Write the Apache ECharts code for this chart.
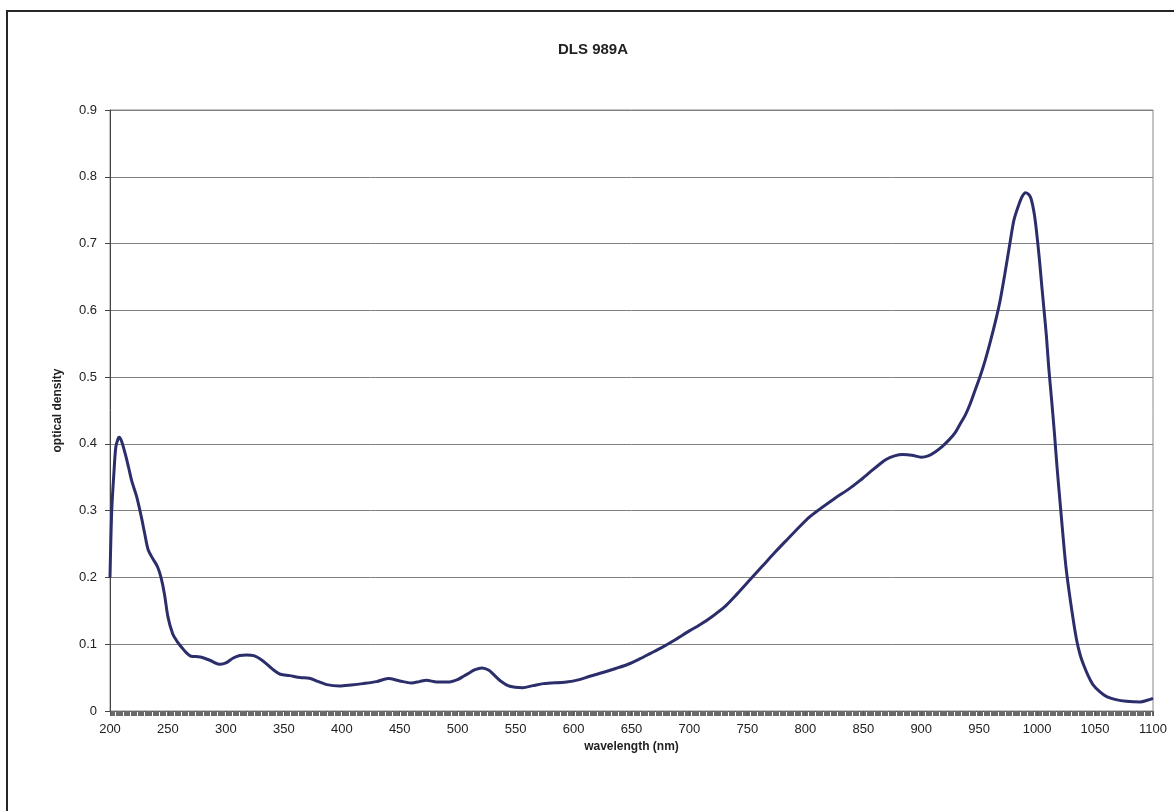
<!DOCTYPE html>
<html>
<head>
<meta charset="utf-8">
<script src="https://cdn.jsdelivr.net/npm/echarts@6/dist/echarts.min.js"></script>
<style>
html,body{margin:0;padding:0;background:#fff;overflow:hidden;}
#frame{position:absolute;left:6px;top:10px;width:1300px;height:900px;border:2px solid #262626;box-sizing:border-box;}
#chart{position:absolute;left:0;top:0;width:1174px;height:811px;}
</style>
</head>
<body>
<div id="frame"></div>
<div id="chart"></div>
<script>
const title = 'DLS 989A';
const xAxisName = 'wavelength (nm)';
const yAxisName = 'optical density';

const wavelength = [200,201.5,203.5,205,207,208,210,213,216,219,223,227,230,233,237,241,244,247,250,254,258,262,266,270,278,286,295,300,306,312,318,324,332,340,347,355,364,372,380,387,398,408,418,430,440,450,460,467,473,482,493,500,505,510,515,521,527,532,537,545,556,565,574,594,605,614,626,637,647,657,666,676,687,700,709,720,731,741,752,763,774,785,795,804,813,825,838,847,856,863,870,877,884,892,900,906,912,918,924,929,933,938,942,946,951,955,959,964,968,972,976.5,980,984,987,990,993,995,997.5,999.5,1002,1004,1006,1008,1010,1012.5,1015,1017,1021,1025,1030,1034,1037,1040,1044,1048,1054,1060,1068,1077,1089,1095,1100];
const density = [0.20,0.30,0.36,0.395,0.408,0.41,0.404,0.386,0.365,0.343,0.321,0.291,0.265,0.241,0.228,0.216,0.200,0.175,0.141,0.116,0.104,0.095,0.087,0.082,0.081,0.076,0.070,0.072,0.079,0.083,0.084,0.083,0.075,0.063,0.055,0.053,0.050,0.049,0.044,0.0395,0.0375,0.039,0.041,0.044,0.0485,0.045,0.042,0.044,0.046,0.0435,0.0435,0.047,0.052,0.057,0.062,0.0645,0.061,0.053,0.045,0.037,0.035,0.038,0.041,0.0435,0.047,0.052,0.058,0.064,0.070,0.078,0.086,0.095,0.106,0.12,0.129,0.142,0.157,0.175,0.196,0.217,0.238,0.258,0.276,0.291,0.303,0.318,0.333,0.345,0.358,0.368,0.377,0.382,0.384,0.383,0.380,0.382,0.388,0.396,0.406,0.416,0.428,0.443,0.459,0.478,0.502,0.524,0.549,0.583,0.614,0.653,0.700,0.735,0.757,0.770,0.776,0.773,0.766,0.745,0.718,0.676,0.637,0.600,0.562,0.515,0.466,0.415,0.3695,0.289,0.214,0.150,0.107,0.085,0.0695,0.053,0.040,0.029,0.0215,0.017,0.0145,0.0135,0.016,0.019];

const chart = echarts.init(document.getElementById('chart'));
const font = 'Liberation Sans, Arial, sans-serif';
chart.setOption({
  animation: false,
  backgroundColor: 'transparent',
  title: {
    text: title, left: 588, top: 37, textAlign: 'center',
    textStyle: {fontFamily: font, fontSize: 15, fontWeight: 'bold', color: '#222'}
  },
  grid: {left: 110, right: 21, top: 110, bottom: 100, show: true, borderColor: '#8a8a8a', borderWidth: 1},
  xAxis: {
    type: 'value', min: 200, max: 1100, interval: 50,
    name: xAxisName, nameLocation: 'middle', nameGap: 23,
    nameTextStyle: {fontFamily: font, fontSize: 12, fontWeight: 'bold', color: '#222'},
    axisLine: {lineStyle: {color: '#555', width: 1}},
    axisTick: {show: true, inside: false, length: 5, lineStyle: {color: '#555'}},
    minorTick: {show: true, splitNumber: 50, length: 5, lineStyle: {color: '#6a6a6a', width: 1}},
    splitLine: {show: false},
    axisLabel: {fontFamily: font, fontSize: 13, color: '#222', margin: 12, formatter: v => String(v)}
  },
  yAxis: {
    type: 'value', min: 0, max: 0.9, interval: 0.1,
    name: yAxisName, nameLocation: 'middle', nameGap: 46, nameRotate: 90,
    nameTextStyle: {fontFamily: font, fontSize: 12, fontWeight: 'bold', color: '#222'},
    axisLine: {show: true, lineStyle: {color: '#444', width: 1}},
    axisTick: {show: true, inside: false, length: 5, lineStyle: {color: '#444'}},
    splitLine: {show: true, lineStyle: {color: '#808080', width: 1}},
    axisLabel: {fontFamily: font, fontSize: 13, color: '#222', margin: 13}
  },
  series: [{
    type: 'line',
    data: wavelength.map((w, i) => [w, density[i]]),
    smooth: 0.3,
    showSymbol: false,
    lineStyle: {color: '#2c2e6c', width: 3},
    z: 5
  }]
});
</script>
</body>
</html>
